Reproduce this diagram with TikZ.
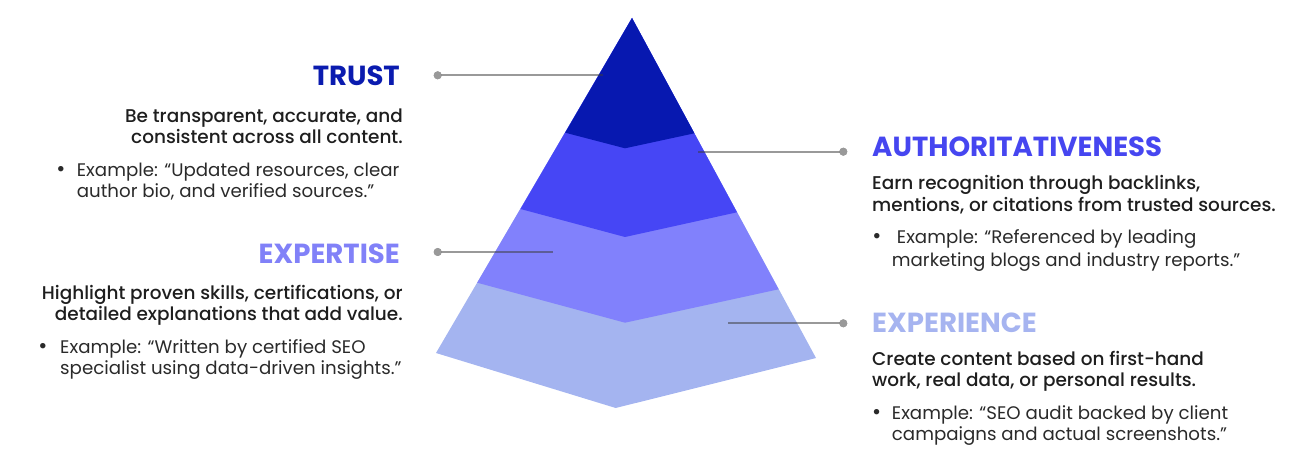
\documentclass[tikz,border=0pt]{standalone}
\usepackage{fontspec}
\setmainfont{Poppins}
\newfontfamily\pmed{Poppins}[UprightFont=* Medium, BoldFont=* Bold]
\definecolor{cA}{HTML}{0718B0}
\definecolor{cB}{HTML}{4646F5}
\definecolor{cC}{HTML}{8181FC}
\definecolor{cD}{HTML}{A4B4F0}
\definecolor{tA}{HTML}{0A1BAF}
\definecolor{tB}{HTML}{4646F0}
\definecolor{tC}{HTML}{8181F8}
\definecolor{tD}{HTML}{A6B4F0}
\definecolor{txt}{HTML}{1E1E1E}
\definecolor{extxt}{HTML}{2A2A2A}
\definecolor{lnk}{HTML}{3C3C3C}
\definecolor{dotc}{HTML}{999999}
\begin{document}
\begin{tikzpicture}[x=1pt,y=-1pt,
  ttl/.style={font=\bfseries\fontsize{27.6}{32}\selectfont, inner sep=0pt},
  desc/.style={font=\pmed\fontsize{18.45}{22}\selectfont, text=txt, inner sep=0pt},
  extext/.style={font=\fontsize{18.2}{22}\selectfont, text=extxt, inner sep=0pt},
  bul/.style={font=\fontsize{22}{22}\selectfont, text=extxt, inner sep=0pt, anchor=base},
  dotn/.style={circle, fill=dotc, inner sep=0pt, minimum size=8pt},
  link/.style={draw=lnk, draw opacity=0.52, line width=1.7pt}]
\useasboundingbox (0,0) rectangle (1300,462);
% pyramid
\coordinate (P0) at (632,18);
\coordinate (L1) at (565.2,132.7); \coordinate (C1) at (625,148.3); \coordinate (R1) at (694.4,133.3);
\coordinate (L2) at (520.5,209);   \coordinate (C2) at (625,237);   \coordinate (R2) at (737,212.3);
\coordinate (L3) at (477.2,282.7); \coordinate (C3) at (625,322.7); \coordinate (R3) at (778.6,289.3);
\coordinate (L4) at (436,353);     \coordinate (C4) at (615.7,408); \coordinate (R4) at (816,358);
\fill[cD] (P0) -- (L4) -- (C4) -- (R4) -- cycle;
\fill[cC] (P0) -- (L3) -- (C3) -- (R3) -- cycle;
\fill[cB] (P0) -- (L2) -- (C2) -- (R2) -- cycle;
\fill[cA] (P0) -- (L1) -- (C1) -- (R1) -- cycle;
% connectors
\node[dotn] (dT) at (437.7,75.3) {};
\coordinate (eT) at (602.7,75.3);
\draw[link] (dT.center) -- (eT);
\node[dotn] (dA) at (843.3,151.7) {};
\coordinate (eA) at (698.3,151.7);
\draw[link] (eA) -- (dA.center);
\node[dotn] (dE) at (437.7,252) {};
\coordinate (eE) at (552.7,252);
\draw[link] (dE.center) -- (eE);
\node[dotn] (dX) at (843.3,323.3) {};
\coordinate (eX) at (728.3,323.3);
\draw[link] (eX) -- (dX.center);
\node[dotn] at (dT) {};
\node[dotn] at (dA) {};
\node[dotn] at (dE) {};
\node[dotn] at (dX) {};
% TRUST
\node[ttl, text=tA, anchor=base east] (tT) at (400,86) {TRUST};
\node[desc, anchor=base east] (tT1) at (403,122.7) {Be transparent, accurate, and};
\node[desc, anchor=base east] (tT2) at (403,143.3) {consistent across all content.};
\node[bul] (bT) at (61,176.7) {•};
\node[extext, anchor=base west] (xT1) at (76.7,176.7) {Example: “Updated resources, clear};
\node[extext, anchor=base west] (xT2) at (76.7,198) {author bio, and verified sources.”};
% EXPERTISE
\node[ttl, text=tC, anchor=base east] (tE) at (400,264) {EXPERTISE};
\node[desc, anchor=base east] (tE1) at (403,299.3) {Highlight proven skills, certifications, or};
\node[desc, anchor=base east] (tE2) at (403,320.7) {detailed explanations that add value.};
\node[bul] (bE) at (43,353.3) {•};
\node[extext, anchor=base west] (xE1) at (60,353.3) {Example: “Written by certified SEO};
\node[extext, anchor=base west] (xE2) at (60,374) {specialist using data-driven insights.”};
% AUTHORITATIVENESS
\node[ttl, text=tB, anchor=base west] (tA) at (872,156.7) {AUTHORITATIVENESS};
\node[desc, anchor=base west] (tA1) at (872,190) {Earn recognition through backlinks,};
\node[desc, anchor=base west] (tA2) at (872,211.7) {mentions, or citations from trusted sources.};
\node[bul] (bA) at (877,243.3) {•};
\node[extext, anchor=base west] (xA1) at (896.7,243.3) {Example: “Referenced by leading};
\node[extext, anchor=base west] (xA2) at (891.7,266.7) {marketing blogs and industry reports.”};
% EXPERIENCE
\node[ttl, text=tD, anchor=base west] (tX) at (872,332.3) {EXPERIENCE};
\node[desc, anchor=base west] (tX1) at (872,365) {Create content based on first-hand};
\node[desc, anchor=base west] (tX2) at (872,386) {work, real data, or personal results.};
\node[bul] (bX) at (876.7,419) {•};
\node[extext, anchor=base west] (xX1) at (891.7,419) {Example: “SEO audit backed by client};
\node[extext, anchor=base west] (xX2) at (891.7,440) {campaigns and actual screenshots.”};
\end{tikzpicture}
\end{document}
